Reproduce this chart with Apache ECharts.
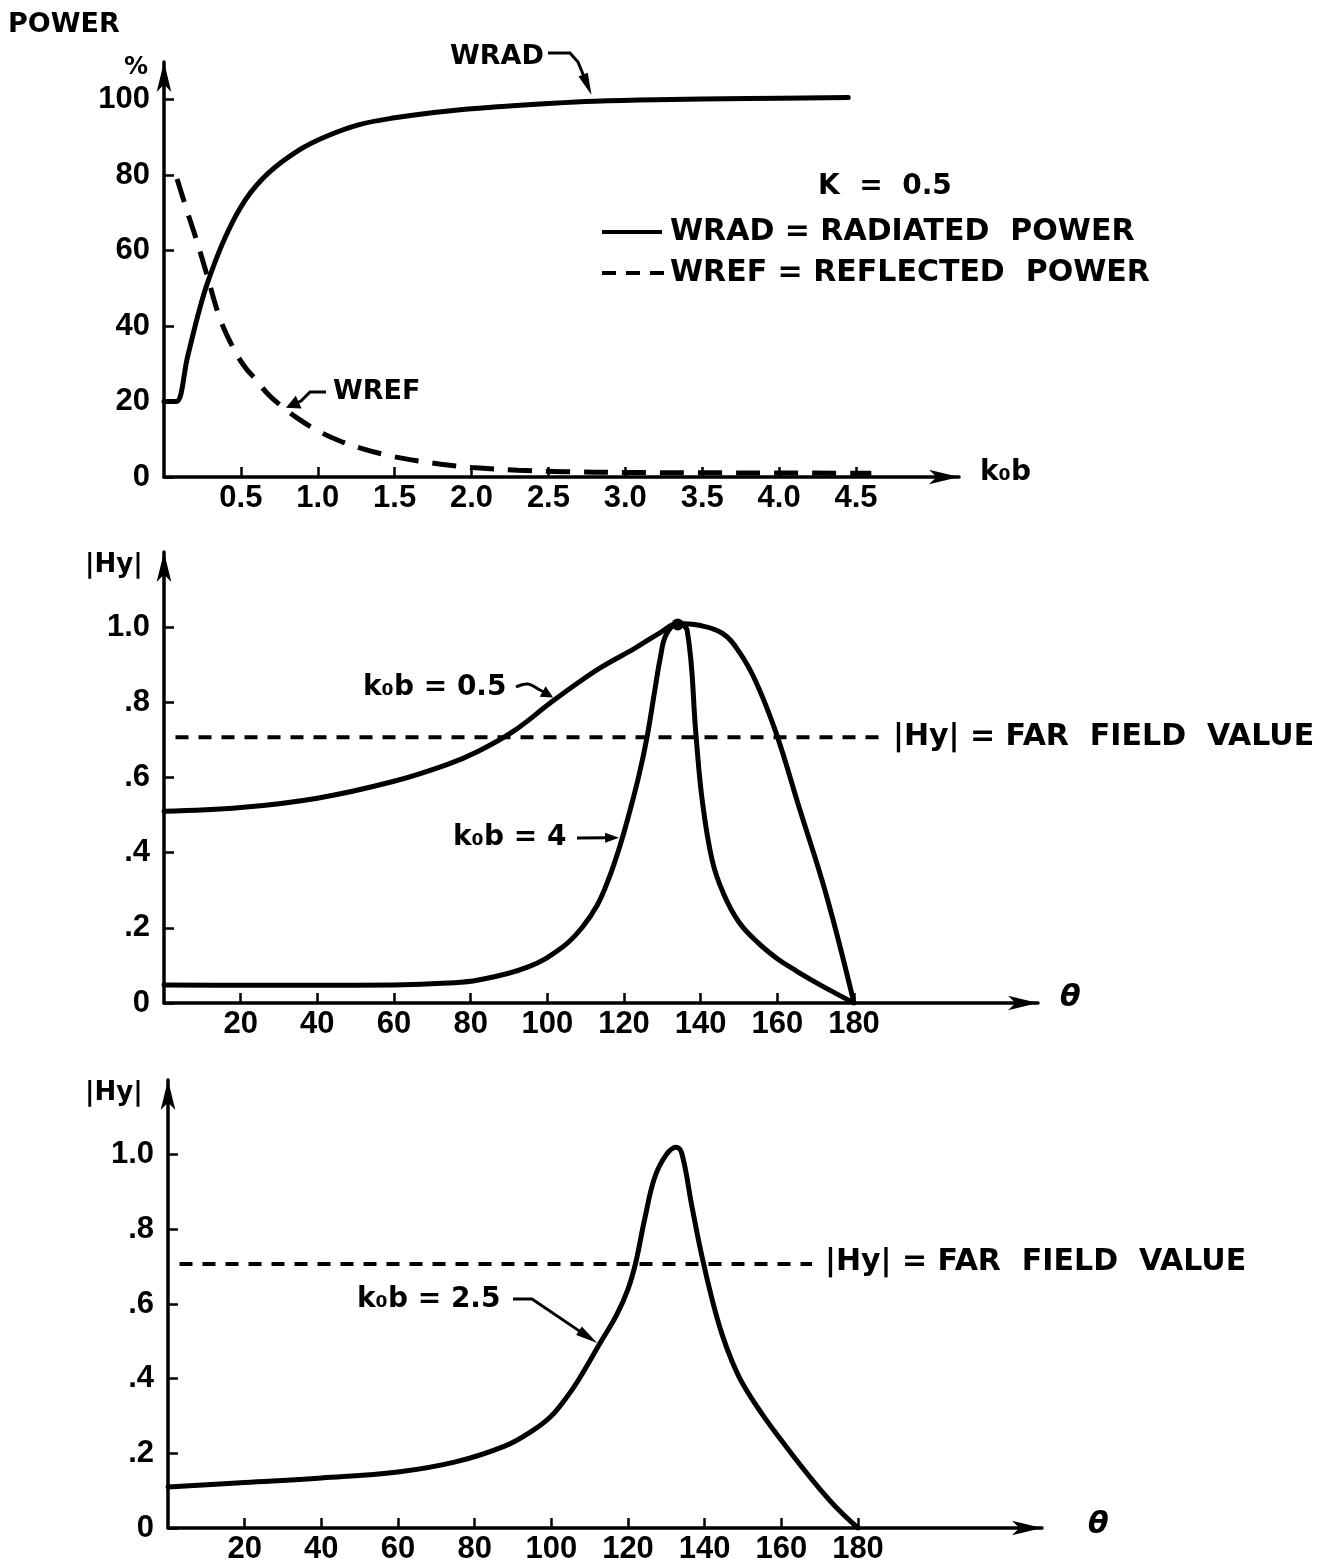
<!DOCTYPE html>
<html><head><meta charset="utf-8">
<script src="https://cdn.jsdelivr.net/npm/echarts@6/dist/echarts.min.js"></script>
<style>html,body{margin:0;padding:0;background:#fff}#c{width:1339px;height:1567px}</style>
</head><body><div id="c"></div>
<script>
// ---------- data ----------
const kbTicks = [0.5, 1.0, 1.5, 2.0, 2.5, 3.0, 3.5, 4.0, 4.5];
const powerTicks = [0, 20, 40, 60, 80, 100];
const thetaTicks = [20, 40, 60, 80, 100, 120, 140, 160, 180];
const hyTicks = [0, 0.2, 0.4, 0.6, 0.8, 1.0];

const wradKb  = [0, 0.04, 0.08, 0.155, 0.23, 0.29, 0.40, 0.53, 0.68, 0.88, 1.05, 1.27, 1.5, 1.85, 2.2, 2.5, 2.8, 3.2, 3.8, 4.45];
const wradPct = [20, 20, 20, 32.2, 44.3, 52.3, 63.7, 73.5, 80.6, 86.7, 90.2, 93.4, 95.2, 97.0, 98.2, 99, 99.6, 100, 100.3, 100.6];

const wrefKb  = [0.085, 0.15, 0.21, 0.28, 0.36, 0.44, 0.52, 0.6, 0.68, 0.77, 0.86, 0.99, 1.14, 1.3, 1.45, 1.6, 1.8, 2.0, 2.3, 2.6, 3.0, 4.6];
const wrefPct = [79, 70.5, 63, 53.5, 42.5, 35, 29.5, 25.7, 21.8, 18.6, 15.8, 12.5, 9.6, 7.4, 5.8, 4.6, 3.4, 2.5, 1.8, 1.4, 1.2, 1.0];

const k05Theta = [0, 20, 40, 60, 74, 82, 91, 101, 108, 114, 123, 129.7, 134, 139.6, 145.6, 150, 154.4, 159.7, 165.7, 172.7, 180];
const k05Hy    = [0.51, 0.52, 0.545, 0.59, 0.635, 0.67, 0.722, 0.80, 0.852, 0.893, 0.945, 0.987, 1.01, 1.005, 0.984, 0.935, 0.855, 0.718, 0.52, 0.29, 0];

const k4Theta = [0, 20, 40, 60, 74, 82, 95, 104, 109, 113, 116, 119, 121.5, 124, 126, 128, 129.5, 131, 134, 136.5, 138.8, 140.4, 143, 146, 150, 155, 160, 165, 170, 175, 180];
const k4Hy    = [0.048, 0.047, 0.047, 0.048, 0.053, 0.061, 0.096, 0.149, 0.20, 0.26, 0.33, 0.42, 0.51, 0.61, 0.707, 0.83, 0.92, 0.98, 1.01, 0.99, 0.71, 0.54, 0.38, 0.29, 0.215, 0.16, 0.118, 0.085, 0.055, 0.027, 0];

const k25Theta = [0, 20, 40, 60, 75, 88, 95, 100, 104, 107, 113, 117, 120, 122, 124.4, 127, 130, 132.5, 134, 136.7, 139.3, 142, 144.5, 147, 150, 155, 160, 165, 170, 175, 180];
const k25Hy    = [0.11, 0.122, 0.134, 0.15, 0.177, 0.22, 0.26, 0.30, 0.35, 0.395, 0.50, 0.57, 0.64, 0.71, 0.83, 0.94, 1.0, 1.02, 1.005, 0.86, 0.727, 0.61, 0.52, 0.45, 0.385, 0.305, 0.235, 0.168, 0.105, 0.048, 0];

const farFieldHy = 0.707;
const farField2Theta = [3, 188];
const farField3Theta = [3, 168];

// ---------- helpers ----------
const zip = (xs, ys) => xs.map((x, i) => [x, ys[i]]);
const TICKFONT = 'Liberation Sans';
const FONT = '"DejaVu Sans"';

function xAxisCfg(gridIndex, max, ticks, fmt) {
  return {
    type: 'value', gridIndex, min: 0, max,
    axisLine: { show: true, onZero: false, symbol: ['none', 'arrow'], symbolSize: [11, 30], lineStyle: { color: '#000', width: 3.5 } },
    axisTick: { show: true, inside: true, length: 10, customValues: ticks, lineStyle: { color: '#000', width: 2.5 } },
    axisLabel: { customValues: ticks, formatter: fmt, color: '#000', fontFamily: TICKFONT, fontWeight: 'bold', fontSize: 31, margin: 6 },
    splitLine: { show: false }
  };
}
function yAxisCfg(gridIndex, max, ticks, fmt) {
  return {
    type: 'value', gridIndex, min: 0, max,
    axisLine: { show: true, onZero: false, symbol: ['none', 'arrow'], symbolSize: [11, 30], lineStyle: { color: '#000', width: 3.5 } },
    axisTick: { show: true, inside: true, length: 10, customValues: ticks, lineStyle: { color: '#000', width: 2.5 } },
    axisLabel: { customValues: ticks, formatter: fmt, color: '#000', fontFamily: TICKFONT, fontWeight: 'bold', fontSize: 31, margin: 14 },
    splitLine: { show: false }
  };
}
const hyFmt = v => v === 0 ? '0' : (Math.abs(v - 1) < 1e-6 ? '1.0' : '.' + Math.round(v * 10));
const lineSeries = (xi, data, extra) => Object.assign({
  type: 'line', xAxisIndex: xi, yAxisIndex: xi, data, symbol: 'none', smooth: 0.4, silent: true,
  lineStyle: { color: '#000', width: 5, cap: 'round', join: 'round' }, z: 3
}, extra || {});

const option = {
  backgroundColor: '#fff',
  animation: false,
  grid: [
    { left: 164, top: 62, width: 795, height: 415, outerBoundsMode: 'none', containLabel: false },
    { left: 164, top: 552, width: 874, height: 451, outerBoundsMode: 'none', containLabel: false },
    { left: 168, top: 1080, width: 874, height: 448, outerBoundsMode: 'none', containLabel: false }
  ],
  xAxis: [
    xAxisCfg(0, 5.17, kbTicks, v => v.toFixed(1)),
    xAxisCfg(1, 228, thetaTicks, v => String(v)),
    xAxisCfg(2, 228, thetaTicks, v => String(v))
  ],
  yAxis: [
    yAxisCfg(0, 110, powerTicks, v => String(v)),
    yAxisCfg(1, 1.2, hyTicks, hyFmt),
    yAxisCfg(2, 1.2, hyTicks, hyFmt)
  ],
  series: [
    lineSeries(0, zip(wradKb, wradPct), { name: 'WRAD' }),
    lineSeries(0, zip(wrefKb, wrefPct), { name: 'WREF', lineStyle: { color: '#000', width: 5, type: [24, 14] } }),
    lineSeries(1, zip(k05Theta, k05Hy), { name: 'kob=0.5' }),
    lineSeries(1, zip(k4Theta, k4Hy), { name: 'kob=4' }),
    lineSeries(1, farField2Theta.map(t => [t, farFieldHy]), { name: 'far2', smooth: false, lineStyle: { color: '#000', width: 4, type: [13, 10] } }),
    lineSeries(2, zip(k25Theta, k25Hy), { name: 'kob=2.5' }),
    lineSeries(2, farField3Theta.map(t => [t, farFieldHy]), { name: 'far3', smooth: false, lineStyle: { color: '#000', width: 4, type: [13, 10] } })
  ]
};

const chart = echarts.init(document.getElementById('c'), null, { renderer: 'canvas' });
chart.setOption(option);

const P = (g, pt) => chart.convertToPixel({ gridIndex: g }, pt);

function txt(x, y, text, size, extra) {
  return { type: 'text', x, y, z: 10, style: Object.assign({ text, fill: '#000', font: `bold ${size}px ${FONT}`, align: 'left', verticalAlign: 'middle' }, extra || {}) };
}
function arrow(points, headLen, headW, smooth) {
  const n = points.length, tip = points[n - 1], prev = points[n - 2];
  const dx = tip[0] - prev[0], dy = tip[1] - prev[1], L = Math.hypot(dx, dy);
  const ux = dx / L, uy = dy / L;
  const bx = tip[0] - ux * headLen, by = tip[1] - uy * headLen;
  const px = -uy, py = ux;
  return [
    { type: 'polyline', z: 10, shape: { points: points.slice(0, n - 1).concat([[bx + ux * 2, by + uy * 2]]), smooth: smooth || 0 }, style: { stroke: '#000', lineWidth: 3, fill: null } },
    { type: 'polygon', z: 10, shape: { points: [tip, [bx + px * headW, by + py * headW], [bx - px * headW, by - py * headW]] }, style: { fill: '#000' } }
  ];
}

const wradTip = P(0, [2.78, 100.2]);
const wrefTip = P(0, [0.78, 17.8]);
const k05Tip = P(1, [101.5, 0.805]);
const k4Tip = P(1, [119.5, 0.44]);
const k25Tip = P(2, [112.5, 0.49]);
const peak2 = P(1, [134, 1.01]);

const g = [];
g.push(txt(8, 25, 'POWER', 27));
g.push(txt(124, 68, '%', 24));
g.push(txt(450, 57, 'WRAD', 27));
g.push(...arrow([[548, 53], [570, 53], [578, 62], [wradTip[0], wradTip[1] - 4]], 22, 5));
g.push(txt(333, 392, 'WREF', 27));
g.push(...arrow([[326, 392], [310, 392], [301, 401], [wrefTip[0] + 2, wrefTip[1] - 2]], 14, 7));
g.push(txt(818, 187, 'K  =  0.5', 28));
g.push({ type: 'line', z: 10, shape: { x1: 602, y1: 232, x2: 662, y2: 232 }, style: { stroke: '#000', lineWidth: 4 } });
g.push(txt(670, 232, 'WRAD = RADIATED  POWER', 30));
g.push({ type: 'line', z: 10, shape: { x1: 602, y1: 273, x2: 664, y2: 273 }, style: { stroke: '#000', lineWidth: 4, lineDash: [14, 10] } });
g.push(txt(670, 273, 'WREF = REFLECTED  POWER', 30));
g.push(txt(980, 473, 'k₀b', 28));

g.push(txt(85, 565, '|Hy|', 26));
g.push(txt(363, 688, 'k₀b = 0.5', 28));
g.push(...arrow([[516, 687], [528, 684], [540, 690], [k05Tip[0], k05Tip[1] - 3]], 12, 6, 0.4));
g.push(txt(453, 838, 'k₀b = 4', 28));
g.push(...arrow([[577, 838], [k4Tip[0] - 3, k4Tip[1]]], 14, 5));
g.push({ type: 'circle', z: 10, shape: { cx: peak2[0], cy: peak2[1] + 1, r: 6 }, style: { fill: '#000' } });
g.push(txt(893, 737, '|Hy| = FAR  FIELD  VALUE', 30));
g.push(txt(1060, 998, 'θ', 30, { font: `italic bold 30px ${FONT}` }));

g.push(txt(85, 1093, '|Hy|', 26));
g.push(txt(357, 1300, 'k₀b = 2.5', 28));
g.push(...arrow([[513, 1299], [532, 1299], [k25Tip[0] - 2, k25Tip[1] - 2]], 22, 5));
g.push(txt(825, 1262, '|Hy| = FAR  FIELD  VALUE', 30));
g.push(txt(1088, 1525, 'θ', 30, { font: `italic bold 30px ${FONT}` }));

chart.setOption({ graphic: g });
</script>
</body></html>
